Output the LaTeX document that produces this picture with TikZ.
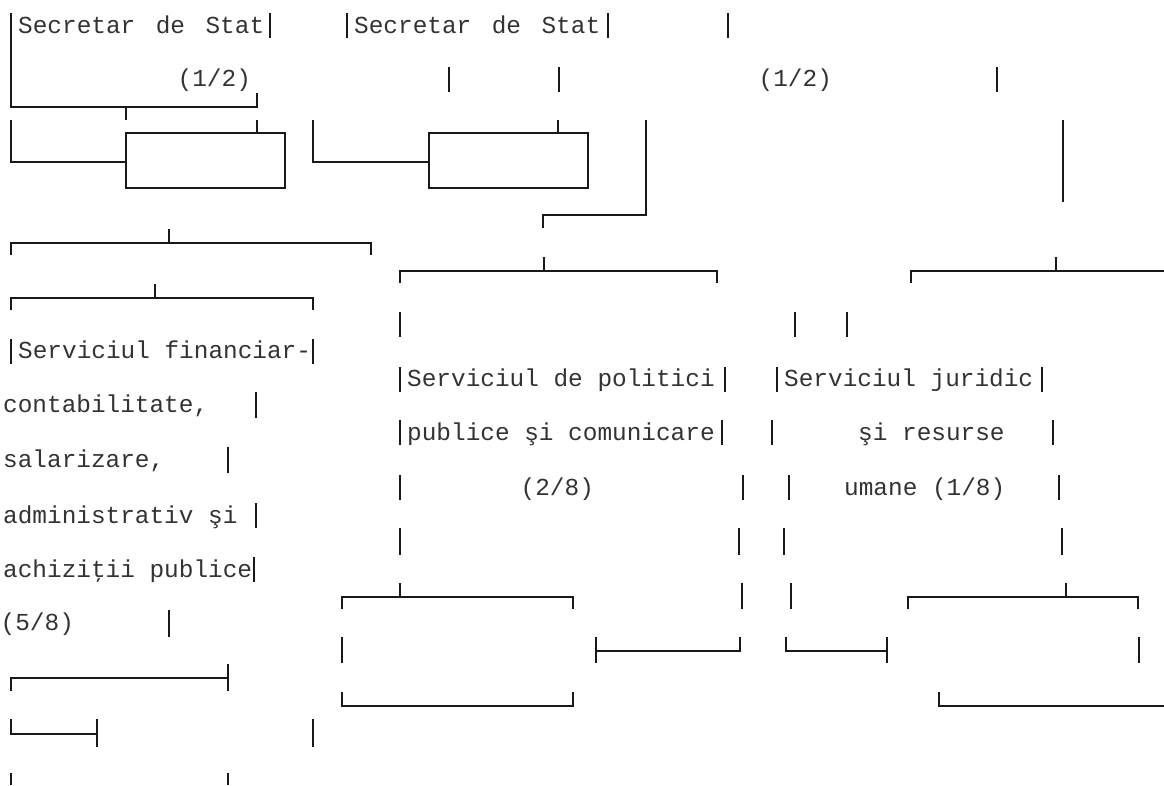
\documentclass[tikz,border=0pt]{standalone}
\usepackage{fontspec}
\setmonofont{Liberation Mono}
\tikzset{
  rule/.style={line width=1.3pt, black!90, line join=miter},
  txt/.style={anchor=base west, inner sep=0pt, text=black!80,
    font=\ttfamily\fontsize{24.4}{27}\selectfont}
}

\begin{document}
\begin{tikzpicture}[x=1pt, y=-1pt]
\useasboundingbox (0,0) rectangle (1164,785);
% top brackets and boxes
\draw[rule] (11,13) |- (257,107) -- (257,93);
\draw[rule] (126,107) -- (126,120);
\draw[rule] (126,133) rectangle (285,188);
\draw[rule] (429,133) rectangle (588,188);
\draw[rule] (257,120) -- (257,133);
\draw[rule] (558,120) -- (558,133);
\draw[rule] (11,120) |- (126,162);
\draw[rule] (313,120) |- (429,162);
\draw[rule] (646,120) |- (543,215) -- (543,228);
\draw[rule] (1063,120) -- (1063,202);
% forks
\draw[rule] (11,255) |- (371,243) -- (371,255);
\draw[rule] (169,229) -- (169,243);
\draw[rule] (400,283) |- (717,271) -- (717,283);
\draw[rule] (544,257) -- (544,271);
\draw[rule] (911,283) |- (1164,271);
\draw[rule] (1056,257) -- (1056,271);
\draw[rule] (11,310) |- (313,298) -- (313,310);
\draw[rule] (155,284) -- (155,298);
\draw[rule] (342,609) |- (573,597) -- (573,609);
\draw[rule] (400,583) -- (400,597);
\draw[rule] (908,609) |- (1138,597) -- (1138,609);
\draw[rule] (1066,583) -- (1066,597);
\draw[rule] (596,637) -- (596,663);
\draw[rule] (596,651) -| (740,637);
\draw[rule] (786,637) |- (887,651);
\draw[rule] (887,637) -- (887,663);
\draw[rule] (11,691) |- (228,678);
\draw[rule] (228,664) -- (228,691);
\draw[rule] (342,692) |- (573,706) -- (573,692);
\draw[rule] (939,692) |- (1164,706);
\draw[rule] (11,719) |- (97,734);
\draw[rule] (97,719) -- (97,747);
% single bars, one row each
\foreach \x/\ya/\yb in {270/13/38, 347/13/38, 608/13/38, 728/13/38,
  449/67/92, 559/67/92, 997/67/92,
  400/312/337, 795/312/337, 847/312/337,
  11/339/364, 313/339/364,
  400/367/392, 725/367/392, 777/367/392, 1042/367/392,
  256/392/418,
  400/420/445, 722/420/445, 772/420/445, 1053/420/445,
  228/447/473,
  400/475/500, 743/475/500, 789/475/500, 1059/475/500,
  256/503/528,
  400/528/555, 739/528/555, 784/528/555, 1062/528/555,
  254/557/582,
  742/583/609, 791/583/609,
  169/610/637,
  342/637/663, 1139/637/663,
  313/719/747,
  11/773/785, 228/773/785}
  \draw[rule] (\x,\ya) -- (\x,\yb);
% texts
\node[txt] (sec1) at (18,33) {Secretar\hspace{20.5pt}de\hspace{20.5pt}Stat};
\node[txt] (sec2) at (354,33) {Secretar\hspace{20.5pt}de\hspace{20.5pt}Stat};
\node[txt] (half1) at (177.5,86.5) {(1/2)};
\node[txt] (half2) at (758.5,86.5) {(1/2)};
\node[txt] (fin1) at (18,358) {Serviciul financiar-};
\node[txt] (fin2) at (3,412) {contabilitate,};
\node[txt] (fin3) at (3,467) {salarizare,};
\node[txt] (fin4) at (3,523) {administrativ şi};
\node[txt] (fin5) at (3,577) {achiziţii publice};
\node[txt] (fin6) at (0.5,630) {(5/8)};
\node[txt] (pol1) at (407,386) {Serviciul de politici};
\node[txt] (pol2) at (407,440) {publice şi comunicare};
\node[txt] (pol3) at (520.5,495) {(2/8)};
\node[txt] (jur1) at (784,386) {Serviciul juridic};
\node[txt] (jur2) at (858,440) {şi resurse};
\node[txt] (jur3) at (844,495) {umane (1/8)};
\end{tikzpicture}
\end{document}
